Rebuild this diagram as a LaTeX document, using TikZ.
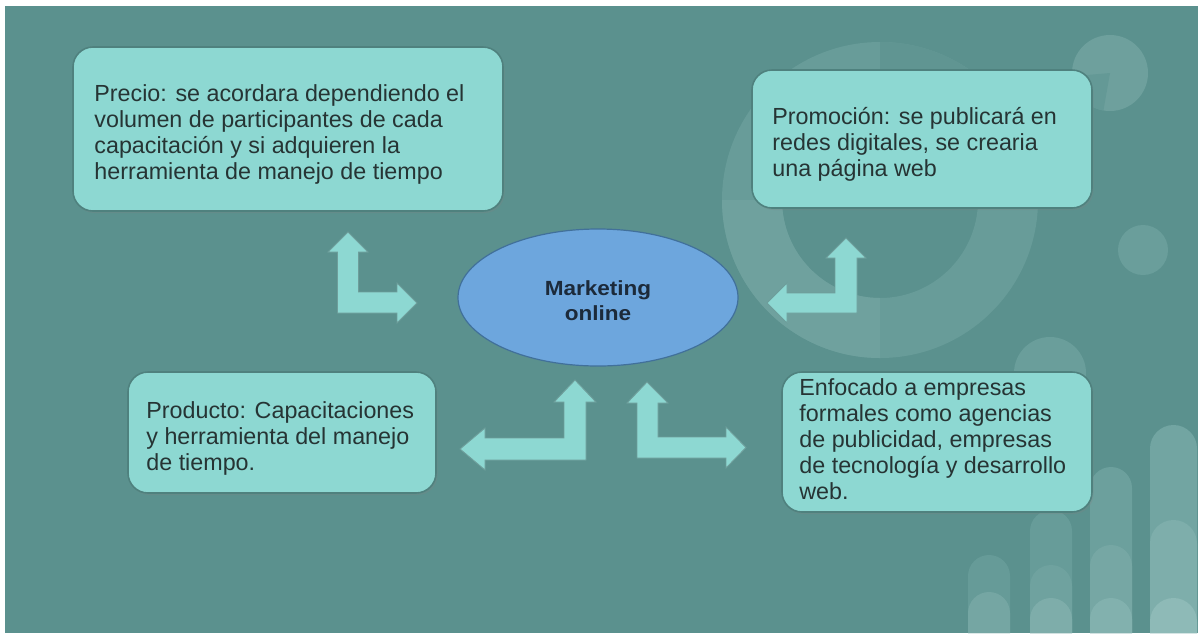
\documentclass[tikz,border=0pt]{standalone}
\usepackage{fontspec}
\setmainfont{Liberation Sans}
\newfontfamily\centrefont[FakeStretch=1.1]{Liberation Sans}
\usetikzlibrary{shapes.geometric,shadows}

\definecolor{bg}{HTML}{5B918E}
\definecolor{boxfill}{HTML}{8DD8D2}
\definecolor{boxline}{HTML}{4F817E}
\definecolor{txtcol}{HTML}{263434}
\definecolor{ellfill}{HTML}{6DA6DD}
\definecolor{ellline}{HTML}{41709A}
\definecolor{elltxt}{HTML}{1C2A3A}
\definecolor{arrline}{HTML}{6E9E9B}
\definecolor{ringa}{RGB}{104,156,153}
\definecolor{ringb}{RGB}{96,149,146}
\definecolor{ringc}{RGB}{111,161,158}

\tikzset{
  infobox/.style={draw=boxline, line width=1.6pt, fill=boxfill,
    rectangle, rounded corners=20pt, inner sep=0pt,
    drop shadow={shadow xshift=1.5pt, shadow yshift=-2pt, opacity=0.25}},
  infotext/.style={anchor=west, align=left, inner sep=0pt, text=txtcol,
    font=\fontsize{23.3}{26}\selectfont},
  centre/.style={ellipse, draw=ellline, line width=1.2pt, fill=ellfill,
    minimum width=280pt, minimum height=137pt},
  centretext/.style={align=center, inner sep=0pt, text=elltxt,
    font=\centrefont\bfseries\fontsize{20.5}{25}\selectfont},
  blockarrow/.style={fill=boxfill, draw=arrline, line width=0.9pt, line join=miter},
  deco/.style={draw=none}
}

\begin{document}
\begin{tikzpicture}[x=1pt,y=-1pt]
\useasboundingbox (0,0) rectangle (1198,633);
\fill[white] (0,0) rectangle (1198,633);
\fill[bg] (5,6) rectangle (1198,633);

% background ornaments: donut chart
\fill[deco, fill=ringa, even odd rule]
  (880,200) circle[radius=158] (880,200) circle[radius=98];
\begin{scope}
  \clip (880,200) rectangle (1100,0);
  \fill[deco, fill=ringb, even odd rule]
    (880,200) circle[radius=158] (880,200) circle[radius=98];
\end{scope}
\begin{scope}
  \clip (700,200) rectangle (880,400);
  \fill[deco, fill=ringc, even odd rule]
    (880,200) circle[radius=158] (880,200) circle[radius=98];
\end{scope}

% small pie and dots
\fill[deco, fill={rgb,255:red,110;green,160;blue,157}] (1110,73) circle[radius=38];
\fill[deco, fill={rgb,255:red,100;green,153;blue,150}] (1110,73) -- ++(100:38)
  arc[start angle=100, end angle=175, radius=38] -- cycle;
\fill[deco, fill={rgb,255:red,106;green,158;blue,155}] (1143,250) circle[radius=25];
\fill[deco, fill={rgb,255:red,106;green,158;blue,155}] (1050,373) circle[radius=36];

% stacked bars, bottom right
\foreach \xa/\xb/\top/\cr/\cg/\cb in {
    968/1010/555/102/155/152, 968/1010/592/117/166/163,
    1030/1072/510/103/156/153, 1030/1072/565/111/162/159, 1030/1072/598/126/173/170,
    1090/1132/467/108/160/157, 1090/1132/545/118/167/164, 1090/1132/598/130/177/174,
    1150/1197/425/114/165/162, 1150/1197/520/126/174/171, 1150/1197/598/142/186/183}{
  \pgfmathsetmacro{\rr}{(\xb-\xa)/2}
  \pgfmathsetmacro{\yc}{\top+\rr}
  \fill[deco, fill={rgb,255:red,\cr;green,\cg;blue,\cb}]
    (\xa,633) -- (\xa,\yc) arc[start angle=180, end angle=360, radius=\rr]
    -- (\xb,633) -- cycle;
}

% information boxes
\node[infobox, minimum width=430pt, minimum height=164pt] (precio) at (288,129) {};
\node[infobox, minimum width=340pt, minimum height=138pt] (promo) at (922,139) {};
\node[infobox, minimum width=308pt, minimum height=121pt] (prod) at (282,432.5) {};
\node[infobox, minimum width=310pt, minimum height=140pt] (enfoq) at (937,442) {};

\node[infotext] (tprecio) at ([xshift=22pt,yshift=-5pt]precio.west)
  {Precio: se acordara dependiendo el\\volumen de participantes de cada\\capacitación y si adquieren la\\herramienta de manejo de tiempo};
\node[infotext] (tpromo) at ([xshift=21pt,yshift=-5pt]promo.west)
  {Promoción: se publicará en\\redes digitales, se crearia\\una página web};
\node[infotext] (tprod) at ([xshift=19pt,yshift=-6pt]prod.west)
  {Producto: Capacitaciones\\y herramienta del manejo\\de tiempo.};
\node[infotext] (tenfoq) at ([xshift=18pt,yshift=3pt]enfoq.west)
  {Enfocado a empresas\\formales como agencias\\de publicidad, empresas\\de tecnología y desarrollo\\web.};

% central node and its label
\node[centre] (mkt) at (598,297.5) {};
\node[centretext] (mktlabel) at ([yshift=-3pt]mkt.center) {Marketing\\online};

% bent double arrows linking the centre with each box
\draw[blockarrow] (348,232) -- (368,252) -- (358.5,252) -- (358.5,292) -- (397,292)
  -- (397,283) -- (417,303) -- (397,323) -- (397,313) -- (337.5,313) -- (337.5,252)
  -- (328,252) -- cycle;
\draw[blockarrow] (846,238) -- (866,258) -- (857,258) -- (857,313) -- (787,313)
  -- (787,323) -- (767,303) -- (787,283) -- (787,293) -- (835,293) -- (835,258)
  -- (826,258) -- cycle;
\draw[blockarrow] (575,380) -- (596,402) -- (586,402) -- (586,460) -- (485,460)
  -- (485,470) -- (460,449) -- (485,428) -- (485,438) -- (564,438) -- (564,402)
  -- (554,402) -- cycle;
\draw[blockarrow] (647,382) -- (668,403) -- (658,403) -- (658,437) -- (726,437)
  -- (726,427) -- (746,447.5) -- (726,468) -- (726,458) -- (637,458) -- (637,403)
  -- (627,403) -- cycle;
\end{tikzpicture}
\end{document}
